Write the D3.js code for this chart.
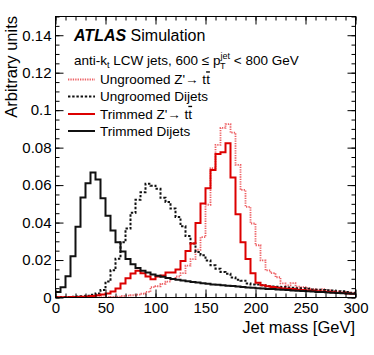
<!DOCTYPE html>
<html>
<head>
<meta charset="utf-8">
<script src="https://cdn.jsdelivr.net/npm/d3@7"></script>
<style>
body { margin: 0; background: #fff; }
svg text { font-family: "Liberation Sans", Arial, Helvetica, sans-serif; fill: #000; }
</style>
</head>
<body>
<div id="chart"></div>
<script>
// jet mass histograms, 5 GeV bins from 0 to 300 GeV
var binWidth = 5;
var binLow = d3.range(0, 300, binWidth);

var ungroomedZp = [
  0, 0, 0, 0, 0, 0, 0, 0, 0, 0.0001, 0.0002, 0.0003,
  0.0005, 0.0008, 0.001, 0.0012, 0.0015, 0.002, 0.003, 0.0055, 0.006, 0.0073, 0.0085, 0.0098,
  0.0112, 0.013, 0.017, 0.0205, 0.0255, 0.0322, 0.0495, 0.069, 0.0815, 0.0905, 0.0925, 0.088,
  0.0708, 0.0574, 0.0484, 0.0395, 0.0279, 0.0198, 0.0145, 0.013, 0.0108, 0.0075, 0.0065, 0.0077,
  0.0058, 0.0055, 0.005, 0.0045, 0.0042, 0.0045, 0.0038, 0.0034, 0.0032, 0.003, 0.0027, 0.0022
];
var ungroomedDijets = [
  0.0002, 0.0002, 0.0003, 0.0004, 0.0005, 0.0007, 0.001, 0.0015, 0.0022, 0.004, 0.0085, 0.0145,
  0.0207, 0.0295, 0.0368, 0.0452, 0.0522, 0.0562, 0.0607, 0.0597, 0.058, 0.0532, 0.051, 0.0475,
  0.043, 0.038, 0.0328, 0.0288, 0.0243, 0.0225, 0.0198, 0.0172, 0.0154, 0.0136, 0.0127, 0.0107,
  0.0095, 0.009, 0.0075, 0.007, 0.0069, 0.0066, 0.006, 0.0059, 0.0058, 0.0056, 0.0053, 0.0052,
  0.005, 0.0049, 0.0047, 0.0043, 0.0042, 0.004, 0.0039, 0.0037, 0.0034, 0.0033, 0.003, 0.0025
];
var trimmedZp = [
  0.0002, 0.0002, 0.0002, 0.0003, 0.0003, 0.0004, 0.0006, 0.0008, 0.0012, 0.0016, 0.0022, 0.0032,
  0.0048, 0.0075, 0.0103, 0.0128, 0.0143, 0.013, 0.0112, 0.0098, 0.0112, 0.0118, 0.0133, 0.0134,
  0.015, 0.0195, 0.0248, 0.0288, 0.0398, 0.0502, 0.0583, 0.068, 0.0766, 0.0775, 0.0824, 0.064,
  0.0445, 0.0295, 0.0205, 0.013, 0.0079, 0.0065, 0.006, 0.0056, 0.0052, 0.0048, 0.0047, 0.0045,
  0.0042, 0.004, 0.0038, 0.0036, 0.0034, 0.0032, 0.003, 0.0028, 0.0025, 0.0024, 0.0022, 0.002
];
var trimmedDijets = [
  0.0029, 0.0055, 0.0113, 0.022, 0.0378, 0.0534, 0.061, 0.0667, 0.063, 0.053, 0.0437, 0.0357,
  0.0295, 0.0245, 0.0205, 0.0178, 0.0158, 0.0143, 0.0133, 0.0123, 0.0116, 0.0111, 0.0104, 0.0099,
  0.0095, 0.0091, 0.0087, 0.0083, 0.008, 0.0076, 0.0073, 0.007, 0.0068, 0.0066, 0.0063, 0.0061,
  0.0059, 0.0056, 0.0054, 0.0052, 0.005, 0.0048, 0.0046, 0.0045, 0.0043, 0.0041, 0.004, 0.0038,
  0.0036, 0.0035, 0.0033, 0.0032, 0.003, 0.0029, 0.0027, 0.0026, 0.0024, 0.0023, 0.0022, 0.002
];

var xTicks = [0, 50, 100, 150, 200, 250, 300];
var yTicks = [0, 0.02, 0.04, 0.06, 0.08, 0.1, 0.12, 0.14];
var legendLabels = ["Ungroomed Z'\u2192 t", "Ungroomed Dijets", "Trimmed Z'\u2192 t", "Trimmed Dijets"];

var width = 374, height = 355;
var x = d3.scaleLinear().domain([0, 300]).range([55.5, 355.5]);
var y = d3.scaleLinear().domain([0, 0.15]).range([297.5, 16.5]);

var svg = d3.select("#chart").append("svg")
    .attr("width", width)
    .attr("height", height);

svg.append("defs").append("clipPath").attr("id", "plotclip")
  .append("rect")
    .attr("x", x(0)).attr("y", y(0.15))
    .attr("width", x(300) - x(0)).attr("height", y(0) - y(0.15));

// histogram outlines
var line = d3.line()
    .x(function(d) { return x(d[0]); })
    .y(function(d) { return y(d[1]); })
    .curve(d3.curveStepAfter);

function steps(vals) {
  var pts = binLow.map(function(b, i) { return [b, vals[i]]; });
  pts.push([300, vals[vals.length - 1]]);
  return pts;
}

var styles = [
  {vals: ungroomedZp, color: "#e8383d", w: 1.8, dash: "1.3,1.1", op: 0.8},
  {vals: ungroomedDijets, color: "#111", w: 2, dash: "2.4,1.8", op: 1},
  {vals: trimmedZp, color: "#dc0000", w: 2, dash: null, op: 1},
  {vals: trimmedDijets, color: "#111", w: 2, dash: null, op: 1}
];

var plot = svg.append("g").attr("clip-path", "url(#plotclip)");
styles.forEach(function(s) {
  plot.append("path")
      .attr("d", line(steps(s.vals)))
      .attr("fill", "none")
      .attr("stroke", s.color)
      .attr("stroke-width", s.w)
      .attr("stroke-dasharray", s.dash)
      .attr("stroke-opacity", s.op);
});

// axes, ticks inside the frame on all four sides
var yMinor = d3.range(0, 0.1501, 0.005);
var xMinor = d3.range(0, 301, 10);
var fmtY = function(d) { return d === 0 ? "0" : String(+d.toFixed(2)); };

function addAxis(axis, tx, ty) {
  var g = svg.append("g")
      .attr("transform", "translate(" + tx + "," + ty + ")")
      .call(axis);
  g.select(".domain").remove();
  g.selectAll("line").attr("stroke", "#000");
  return g;
}

addAxis(d3.axisLeft(y).tickValues(yMinor).tickSize(-4).tickFormat(""), x(0), 0);
addAxis(d3.axisRight(y).tickValues(yMinor).tickSize(-4).tickFormat(""), x(300), 0);
addAxis(d3.axisBottom(x).tickValues(xMinor).tickSize(-4).tickFormat(""), 0, y(0));
addAxis(d3.axisTop(x).tickValues(xMinor).tickSize(-4).tickFormat(""), 0, y(0.15));
addAxis(d3.axisRight(y).tickValues(yTicks).tickSize(-8).tickFormat(""), x(300), 0);
addAxis(d3.axisTop(x).tickValues(xTicks).tickSize(-8).tickFormat(""), 0, y(0.15));

addAxis(d3.axisLeft(y).tickValues(yTicks).tickSize(-8).tickPadding(4).tickFormat(fmtY), x(0), 0)
  .selectAll("text")
    .style("font-size", "15px");

addAxis(d3.axisBottom(x).tickValues(xTicks).tickSize(-8).tickPadding(5), 0, y(0))
  .selectAll("text")
    .style("font-size", "15px");

svg.append("rect")
    .attr("x", x(0)).attr("y", y(0.15))
    .attr("width", x(300) - x(0)).attr("height", y(0) - y(0.15))
    .attr("fill", "none")
    .attr("stroke", "#000")
    .attr("stroke-width", 1);

// axis titles
svg.append("text")
    .attr("x", 355)
    .attr("y", 333)
    .attr("text-anchor", "end")
    .style("font-size", "16.5px")
    .text("Jet mass [GeV]");

svg.append("text")
    .attr("transform", "translate(17,16) rotate(-90)")
    .attr("text-anchor", "end")
    .style("font-size", "16.5px")
    .text("Arbitrary units");

// ATLAS label
var atlas = svg.append("text")
    .attr("x", 74)
    .attr("y", 41)
    .style("font-size", "16px");
atlas.append("tspan").style("font-weight", "bold").style("font-style", "italic").text("ATLAS");
atlas.append("tspan").text(" Simulation");

var info = svg.append("text")
    .attr("x", 74)
    .attr("y", 65)
    .style("font-size", "13.5px");
info.append("tspan").text("anti-k");
info.append("tspan").attr("dy", 3).style("font-size", "9px").text("t");
info.append("tspan").attr("dy", -3).text(" LCW jets, 600 \u2264 p");
var ptX = 0;
info.append("tspan").attr("dy", -6).style("font-size", "9px").text("jet");
info.append("tspan").attr("dy", 6).text(" < 800 GeV");

// position the subscript T under the superscript "jet"
var jetSpan = info.selectAll("tspan").nodes()[3];
var bb = jetSpan.getBBox();
svg.append("text")
    .attr("x", bb.x + 0.5)
    .attr("y", 69)
    .style("font-size", "9px")
    .text("T");

// legend
var legend = svg.append("g");
var legendY = [79.5, 96.5, 114, 131];
styles.forEach(function(s, i) {
  legend.append("line")
      .attr("x1", 68).attr("x2", 95)
      .attr("y1", legendY[i]).attr("y2", legendY[i])
      .attr("stroke", s.color)
      .attr("stroke-width", s.w)
      .attr("stroke-dasharray", s.dash)
      .attr("stroke-opacity", s.op);
  var t = legend.append("text")
      .attr("x", 100)
      .attr("y", legendY[i] + 4.8)
      .style("font-size", "13.5px")
      .text(legendLabels[i]);
  if (legendLabels[i].indexOf("Z'") >= 0) {
    t.append("tspan").style("text-decoration", "overline").text("t");
  }
});
</script>
</body>
</html>
